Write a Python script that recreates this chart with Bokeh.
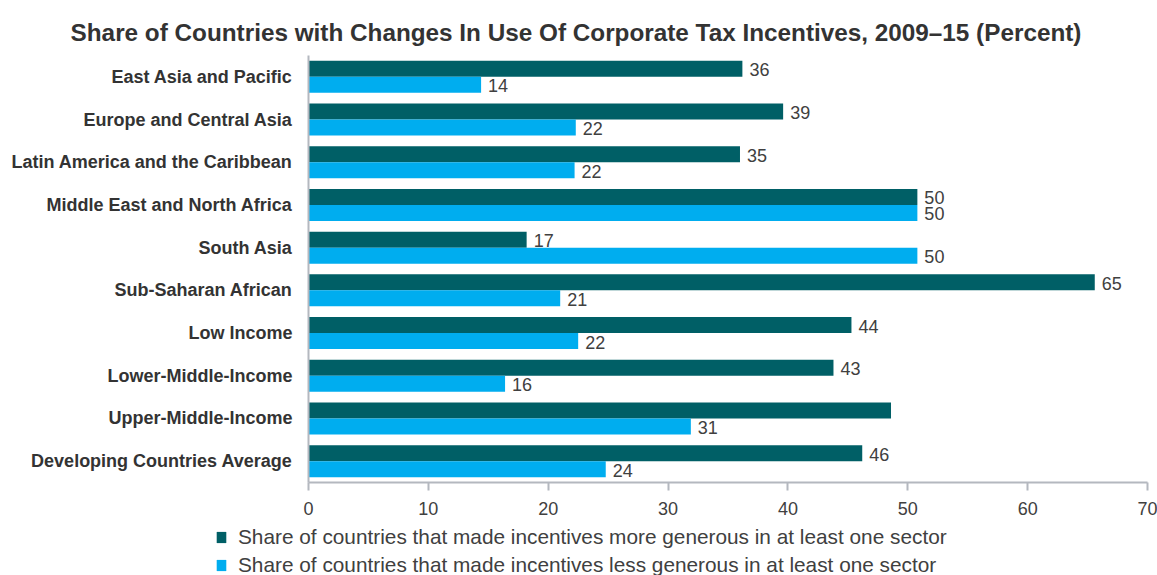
from bokeh.plotting import figure
from bokeh.models import (FactorRange, Range1d, Legend, LegendItem, Label,
                          ColumnDataSource, FixedTicker)
from bokeh.transform import dodge
from bokeh.embed import file_html
from bokeh.resources import INLINE
from bokeh.core.properties import value

categories = [
    "East Asia and Pacific",
    "Europe and Central Asia",
    "Latin America and the Caribbean",
    "Middle East and North Africa",
    "South Asia",
    "Sub-Saharan African",
    "Low Income",
    "Lower-Middle-Income",
    "Upper-Middle-Income",
    "Developing Countries Average",
]
more_generous = [36.2, 39.6, 36.0, 50.8, 18.2, 65.6, 45.3, 43.8, 48.6, 46.2]
less_generous = [14.4, 22.3, 22.2, 50.8, 50.8, 21.0, 22.5, 16.4, 31.9, 24.8]
more_labels = ["36", "39", "35", "50", "17", "65", "44", "43", "", "46"]
less_labels = ["14", "22", "22", "50", "50", "21", "22", "16", "31", "24"]
x_ticks = [0, 10, 20, 30, 40, 50, 60, 70]

title_text = "Share of Countries with Changes In Use Of Corporate Tax Incentives, 2009\u201315 (Percent)"
legend_more = "Share of countries that made incentives more generous in at least one sector"
legend_less = "Share of countries that made incentives less generous in at least one sector"

DARK = "#005f66"
LIGHT = "#00adef"
TXT = "#404040"
AXIS = "#b4b8bf"
FONT = "Liberation Sans"
W = 1157


def bare(height, x_range, y_range):
    f = figure(width=W, height=height, output_backend="svg", toolbar_location=None,
               x_range=x_range, y_range=y_range, x_axis_type=None, y_axis_type=None,
               min_border_left=0, min_border_right=0, min_border_top=0,
               min_border_bottom=0)
    f.outline_line_color = None
    f.xgrid.visible = False
    f.ygrid.visible = False
    f.background_fill_color = "white"
    f.border_fill_color = "white"
    return f


src = ColumnDataSource(dict(cat=categories, more=more_generous, less=less_generous,
                            more_lab=more_labels, less_lab=less_labels))

# ---- title strip ----
pt = bare(55, Range1d(0, W), Range1d(55, 0))
pt.add_layout(Label(x=575.5, y=32, text=title_text, text_align="center",
                    text_baseline="alphabetic", text_font=FONT,
                    text_font_size="24.3px", text_font_style="bold",
                    text_color="#333333"))

# ---- main chart ----
p = figure(width=W, height=470, output_backend="svg", toolbar_location=None,
           y_range=FactorRange(factors=categories[::-1]),
           x_range=Range1d(0, 70),
           min_border_left=308, min_border_right=10,
           min_border_top=0, min_border_bottom=43)
p.outline_line_color = None
p.xgrid.visible = False
p.ygrid.visible = False
p.background_fill_color = "white"
p.border_fill_color = "white"

bh = 0.375
p.hbar(y=dodge("cat", bh / 2, range=p.y_range), left=0, right="more",
       height=bh, source=src, fill_color=DARK, line_color=None)
p.hbar(y=dodge("cat", -bh / 2, range=p.y_range), left=0, right="less",
       height=bh, source=src, fill_color=LIGHT, line_color=None)

p.text(x="more", y=dodge("cat", bh / 2, range=p.y_range), text="more_lab", source=src,
       x_offset=7, y_offset=1, text_baseline="middle", text_align="left",
       text_font=value(FONT), text_font_size="18px", text_color=TXT)
p.text(x="less", y=dodge("cat", -bh / 2, range=p.y_range), text="less_lab", source=src,
       x_offset=7, y_offset=1, text_baseline="middle", text_align="left",
       text_font=value(FONT), text_font_size="18px", text_color=TXT)

xa = p.xaxis[0]
xa.ticker = FixedTicker(ticks=x_ticks)
xa.minor_tick_line_color = None
xa.major_tick_in = 0
xa.major_tick_out = 8
xa.axis_line_color = AXIS
xa.axis_line_width = 2
xa.major_tick_line_color = AXIS
xa.major_tick_line_width = 2
xa.major_label_text_font = FONT
xa.major_label_text_font_size = "18px"
xa.major_label_text_color = TXT
xa.major_label_standoff = 11

ya = p.yaxis[0]
ya.major_tick_in = 0
ya.major_tick_out = 0
ya.minor_tick_line_color = None
ya.axis_line_color = AXIS
ya.axis_line_width = 2
ya.major_label_text_font = FONT
ya.major_label_text_font_size = "18px"
ya.major_label_text_font_style = "bold"
ya.major_label_text_color = "#333333"
ya.major_label_standoff = 16

# ---- legend strip ----
pl = bare(50, Range1d(0, 70), FactorRange(factors=categories[::-1]))
lr_more = pl.hbar(y="cat", left=0, right="more", height=bh, source=src,
                  fill_color=DARK, line_color=None, visible=False)
lr_less = pl.hbar(y="cat", left=0, right="less", height=bh, source=src,
                  fill_color=LIGHT, line_color=None, visible=False)
legend = Legend(items=[LegendItem(label=legend_more, renderers=[lr_more]),
                       LegendItem(label=legend_less, renderers=[lr_less])],
                location=(215, -2), orientation="vertical",
                glyph_width=12, glyph_height=14, label_standoff=11,
                label_height=24, spacing=4, padding=0, margin=0,
                border_line_color=None, background_fill_alpha=0,
                label_text_font=FONT, label_text_font_size="20.8px",
                label_text_color=TXT)
pl.add_layout(legend, "center")

open("out.html", "w").write(file_html([pt, p, pl], INLINE))
